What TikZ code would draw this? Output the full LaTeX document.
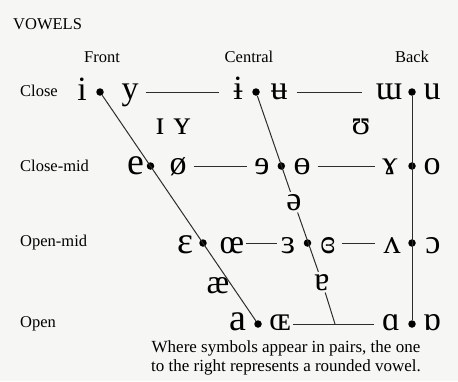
\documentclass[tikz,border=0pt]{standalone}
\usepackage{fontspec}
\setmainfont{Liberation Serif}
\usetikzlibrary{positioning, calc}
\definecolor{InkGray}{RGB}{45, 45, 45}
\definecolor{PaperBg}{RGB}{246, 246, 244}

\begin{document}
\begin{tikzpicture}[x=1pt, y=-1pt,
    rowlabel/.style={anchor=west, inner sep=0pt, font=\fontsize{16.5}{18}\selectfont},
    colhead/.style={inner sep=0pt, font=\fontsize{16.5}{18}\selectfont},
    sym/.style={anchor=base, inner sep=2pt, font=\fontsize{34}{36}\selectfont},
    bigsym/.style={sym, font=\fontsize{38}{40}\selectfont},
    vdot/.style={circle, fill=black, inner sep=0pt, minimum size=7.5pt},
    edge/.style={line width=1pt, draw=InkGray}]
      % Background
      \fill[PaperBg] (0,0) rectangle (458,381);
      \useasboundingbox (0,0) rectangle (458,381);

      % Headings
      \node[rowlabel] (title) at (13,24) {VOWELS};
      \node[colhead] (front) at (102,57) {Front};
      \node[colhead] (central) at (249,57) {Central};
      \node[colhead] (back) at (412,57) {Back};
      \node[rowlabel] (close) at (20,91) {Close};
      \node[rowlabel] (closemid) at (20,166) {Close-mid};
      \node[rowlabel] (openmid) at (20,243) {Open-mid};
      \node[rowlabel] (open) at (20,324) {Open};

      % Dots
      \node[vdot] (dI) at (100,92) {};
      \node[vdot] (dE) at (150.5,166) {};
      \node[vdot] (dEps) at (203,243) {};
      \node[vdot] (dA) at (258,324) {};
      \node[vdot] (dIbar) at (256,92) {};
      \node[vdot] (dRevE) at (281.3,166) {};
      \node[vdot] (dRevEps) at (307.5,243) {};
      \node[vdot] (dW) at (412,92) {};
      \node[vdot] (dGam) at (412,166) {};
      \node[vdot] (dV) at (412,243) {};
      \node[vdot] (dAlpha) at (412,324) {};
      \coordinate (cBot) at (335,324);

      % Close
      \node[sym] (sI) at (82,100) {i};
      \node[sym] (sY) at (130,99) {y};
      \node[sym] (sIbar) at (238,99) {ɨ};
      \node[sym] (sUbar) at (279,99) {ʉ};
      \node[sym] (sW) at (389,99) {ɯ};
      \node[sym] (sU) at (432,99) {u};
      \node[sym] (sSmallI) at (160,134) {ɪ};
      \node[sym] (sSmallY) at (182,134) {ʏ};
      \node[sym] (sUpsilon) at (361,134) {ʊ};

      % Close-mid
      \node[bigsym] (sE) at (136,174) {e};
      \node[sym] (sSlashO) at (178,174) {ø};
      \node[sym] (sRevE) at (262,174) {ɘ};
      \node[sym] (sBarO) at (302,174) {ɵ};
      \node[sym] (sGam) at (390,174) {ɤ};
      \node[sym] (sO) at (432,174) {o};
      \node[sym] (sSchwa) at (294,210) {ə};

      % Open-mid
      \node[bigsym] (sEps) at (185,253) {ɛ};
      \node[sym] (sOe) at (232,253) {œ};
      \node[sym] (sRevEps) at (288,253) {ɜ};
      \node[sym] (sClRevEps) at (328,253) {ɞ};
      \node[sym] (sV) at (392,253) {ʌ};
      \node[sym] (sOpenO) at (433,253) {ɔ};
      \node[sym] (sAe) at (218,293) {æ};
      \node[sym] (sTurnA) at (322,290) {ɐ};

      % Open
      \node[bigsym] (sA) at (238,330) {a};
      \node[sym] (sOE) at (280,330) {ɶ};
      \node[sym] (sAlpha) at (391,330) {ɑ};
      \node[sym] (sTurnAlpha) at (432,330) {ɒ};

      % Caption
      \node[align=center, inner sep=0pt, font=\fontsize{17}{18.5}\selectfont] (note) at (286,358)
        {Where symbols appear in pairs, the one\\to the right represents a rounded vowel.};

      % Lines
      \draw[edge] (dI) -- (dA);
      \draw[edge] (dIbar) -- (sSchwa) -- (sTurnA) -- (cBot);
      \draw[edge] (dW) -- (dAlpha);
      \draw[edge, shorten <=5pt, shorten >=12pt] (sY.east |- dI) -- (sIbar.west |- dI);
      \draw[edge, shorten <=7pt, shorten >=12pt] (sUbar.east |- dI) -- (sW.west |- dI);
      \draw[edge, shorten <=5pt, shorten >=5pt] (sSlashO.east |- dE) -- (sRevE.west |- dE);
      \draw[edge, shorten <=5pt, shorten >=5pt] (sBarO.east |- dE) -- (sGam.west |- dE);
      \draw[edge, shorten <=0pt, shorten >=2pt] (sOe.east |- dEps) -- (sRevEps.west |- dEps);
      \draw[edge, shorten <=4pt, shorten >=6pt] (sClRevEps.east |- dEps) -- (sV.west |- dEps);
      \draw[edge, shorten <=0pt, shorten >=6pt] (sOE.east |- dA) -- (sAlpha.west |- dA);
    \end{tikzpicture}
\end{document}
